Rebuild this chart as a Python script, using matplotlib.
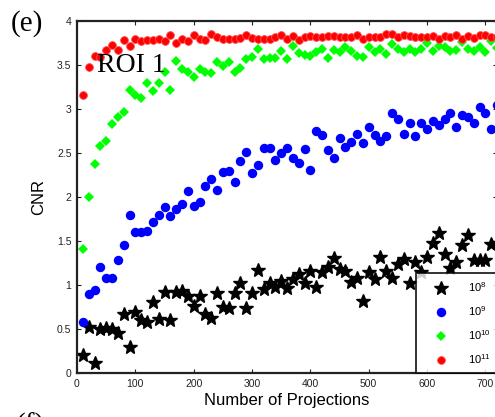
import numpy as np
import matplotlib
matplotlib.use("Agg")
import matplotlib.pyplot as plt

plt.rcParams['font.family'] = ['Liberation Sans', 'DejaVu Sans']
plt.rcParams['mathtext.fontset'] = 'custom'
plt.rcParams['mathtext.rm'] = 'Liberation Sans'
plt.rcParams['mathtext.it'] = 'Liberation Sans:italic'

# Number of projections (x) and CNR for each photon count
projections = np.arange(10, 730, 10)

cnr_1e8 = [0.20, 0.52, 0.11, 0.50, 0.51, 0.50, 0.46, 0.67, 0.30, 0.69,
           0.60, 0.58, 0.81, 0.61, 0.92, 0.60, 0.92, 0.93, 0.87, 0.76,
           0.88, 0.67, 0.62, 0.91, 0.75, 0.74, 0.91, 1.02, 0.74, 0.91,
           1.17, 0.96, 1.02, 0.98, 1.04, 0.97, 1.07, 1.13, 1.02, 1.16,
           0.98, 1.15, 1.21, 1.31, 1.18, 1.16, 1.03, 1.08, 0.82, 1.15,
           1.07, 1.32, 1.16, 1.08, 1.24, 1.30, 1.02, 1.26, 1.15, 1.32,
           1.48, 1.59, 1.35, 1.19, 1.26, 1.46, 1.57, 1.28, 1.28, 1.28,
           1.47, 1.48]

cnr_1e9 = [0.58, 0.90, 0.94, 1.21, 1.08, 1.08, 1.28, 1.46, 1.80, 1.60,
           1.60, 1.61, 1.72, 1.79, 1.89, 1.78, 1.86, 1.92, 2.07, 1.90,
           1.94, 2.125, 2.21, 2.08, 2.28, 2.29, 2.17, 2.41, 2.51, 2.27,
           2.36, 2.56, 2.56, 2.42, 2.50, 2.56, 2.44, 2.39, 2.55, 2.31,
           2.75, 2.70, 2.53, 2.44, 2.67, 2.57, 2.62, 2.72, 2.61, 2.79,
           2.70, 2.64, 2.69, 2.96, 2.89, 2.72, 2.84, 2.69, 2.84, 2.77,
           2.86, 2.82, 2.89, 2.96, 2.79, 2.93, 2.91, 2.84, 3.02, 2.96,
           2.77, 3.05]

cnr_1e10 = [1.41, 2.00, 2.375, 2.58, 2.64, 2.83, 2.91, 2.97, 3.22, 3.16,
            3.12, 3.30, 3.21, 3.30, 3.42, 3.22, 3.545, 3.45, 3.42, 3.36,
            3.46, 3.42, 3.41, 3.53, 3.49, 3.53, 3.42, 3.47, 3.565, 3.59,
            3.68, 3.565, 3.575, 3.575, 3.66, 3.565, 3.72, 3.64, 3.61, 3.60,
            3.65, 3.68, 3.575, 3.67, 3.65, 3.70, 3.66, 3.60, 3.595, 3.70,
            3.65, 3.68, 3.625, 3.735, 3.68, 3.65, 3.68, 3.65, 3.68, 3.745,
            3.66, 3.72, 3.71, 3.66, 3.67, 3.765, 3.68, 3.66, 3.70, 3.65,
            3.77, 3.69]

cnr_1e11 = [3.155, 3.48, 3.60, 3.59, 3.67, 3.73, 3.67, 3.78, 3.72, 3.80,
            3.77, 3.78, 3.78, 3.80, 3.77, 3.845, 3.75, 3.79, 3.77, 3.84,
            3.80, 3.78, 3.855, 3.815, 3.79, 3.80, 3.80, 3.81, 3.845, 3.81,
            3.79, 3.80, 3.80, 3.82, 3.84, 3.80, 3.825, 3.78, 3.82, 3.825,
            3.82, 3.82, 3.825, 3.825, 3.82, 3.82, 3.82, 3.84, 3.80, 3.815,
            3.815, 3.815, 3.85, 3.85, 3.815, 3.84, 3.835, 3.82, 3.82, 3.82,
            3.825, 3.80, 3.825, 3.815, 3.84, 3.80, 3.825, 3.81, 3.845, 3.845,
            3.815, 3.82]

series_labels = [r'$\mathregular{10^{8}}$', r'$\mathregular{10^{9}}$',
                 r'$\mathregular{10^{10}}$', r'$\mathregular{10^{11}}$']

x_ticks = [0, 100, 200, 300, 400, 500, 600, 700]
y_ticks = [0, 0.5, 1, 1.5, 2, 2.5, 3, 3.5, 4]
y_tick_labels = ['0', '0.5', '1', '1.5', '2', '2.5', '3', '3.5', '4']

W, H = 495, 417
fig = plt.figure(figsize=(W / 100, H / 100), dpi=100)
# axes box in pixels: left 77, right 497, top 21, bottom 373
ax = fig.add_axes([77 / W, (H - 373) / H, 420 / W, 352 / H])

ax.plot(projections, cnr_1e8, linestyle='none', marker='*', markersize=10,
        color='black', label=series_labels[0])
ax.plot(projections, cnr_1e9, linestyle='none', marker='o', markersize=6.8,
        color='#0000ff', markeredgewidth=0, label=series_labels[1])
ax.plot(projections, cnr_1e10, linestyle='none', marker='D', markersize=5.2,
        color='#00ff00', markeredgewidth=0, label=series_labels[2])
ax.plot(projections, cnr_1e11, linestyle='none', marker='o', markersize=5.6,
        color='#ff0000', markeredgecolor='#ff5050', markeredgewidth=0.6,
        label=series_labels[3])

ax.set_xlim(0, 720)
ax.set_ylim(0, 4)
ax.set_xticks(x_ticks)
ax.set_yticks(y_ticks)
ax.set_yticklabels(y_tick_labels)
ax.tick_params(direction='in', length=3, width=0.8, labelsize=7.5,
               top=True, right=True, pad=4, colors='#222222')
for side in ['left', 'bottom', 'top', 'right']:
    ax.spines[side].set_linewidth(1.6)
    ax.spines[side].set_color('#222222')

ax.set_xlabel('Number of Projections', fontsize=12, labelpad=3)
ax.set_ylabel('CNR', fontsize=12, labelpad=8)

ax.text(34, 3.42, 'ROI 1', fontsize=20, family='Liberation Serif',
        va='baseline')

fig.text(11 / W, 1 - 31 / H, '(e)', fontsize=21, family='Liberation Serif',
         va='baseline', ha='left')
fig.text(16 / W, 1 - 434 / H, '(f)', fontsize=21, family='Liberation Serif',
         va='baseline', ha='left')

leg = ax.legend(loc='lower left', bbox_to_anchor=(339 / 420, 0, 0.3, 0.3),
                mode='expand', fontsize=8, frameon=True, fancybox=False,
                borderpad=0.65, labelspacing=0.9, handlelength=3.2,
                handletextpad=0.8, borderaxespad=0, numpoints=1)
leg.get_frame().set_edgecolor('black')
leg.get_frame().set_linewidth(1.4)

fig.savefig('out.png', dpi=100)
